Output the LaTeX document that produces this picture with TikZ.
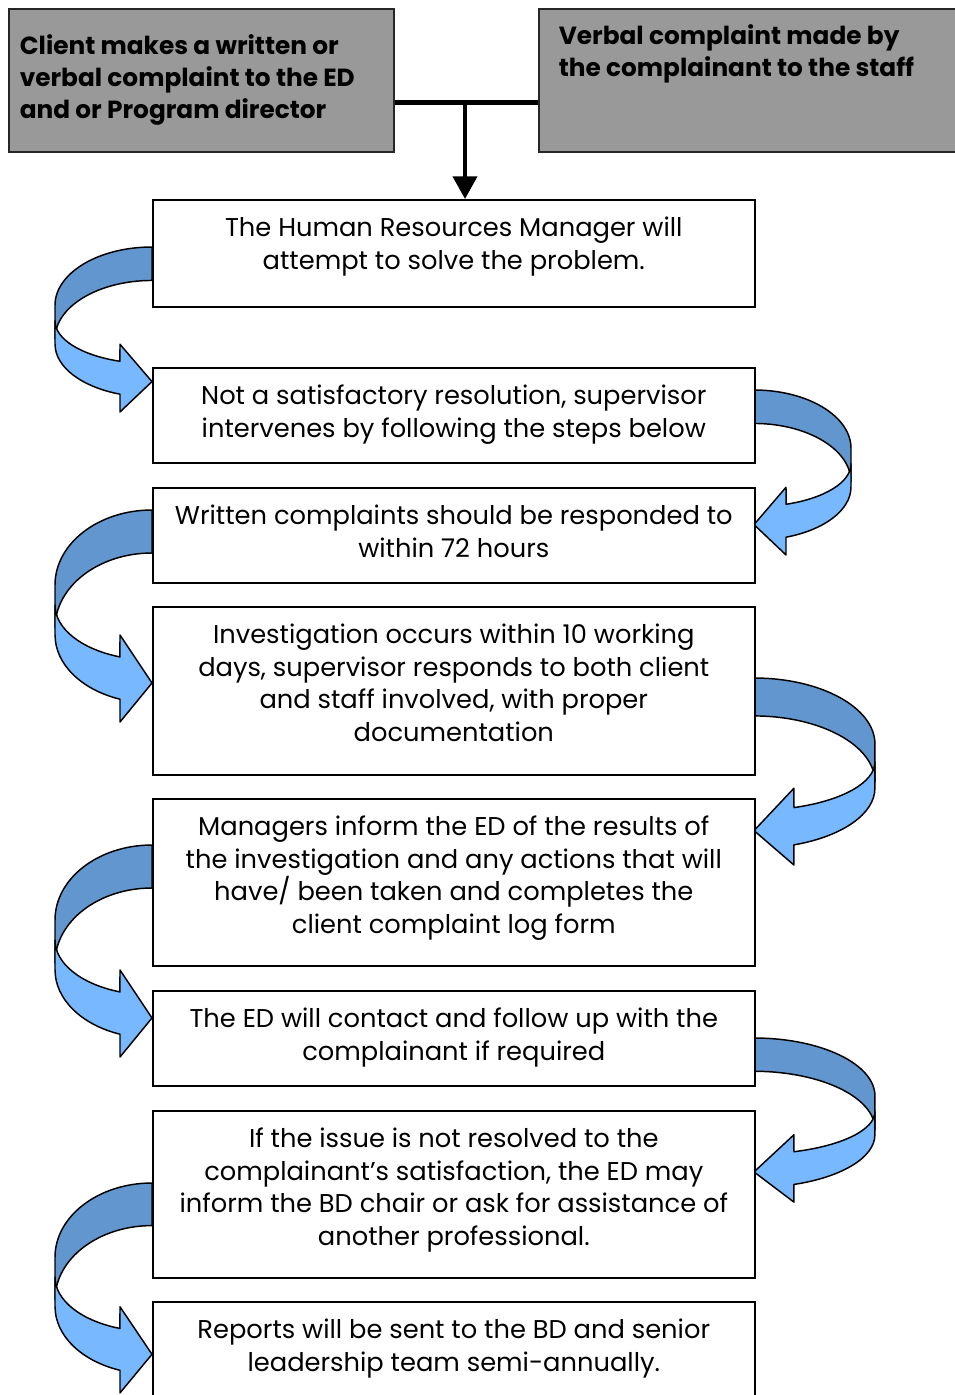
\documentclass[tikz,border=0pt]{standalone}
\usepackage{fontspec}
\setmainfont{Poppins}
\usetikzlibrary{arrows.meta}
\definecolor{bandback}{RGB}{98,150,206}
\definecolor{bandfront}{RGB}{120,184,255}
\definecolor{graybox}{RGB}{153,153,153}
\newcommand{\uarrow}[4]{%
\begin{scope}[shift={(#1,#2)}, xscale=#3, yscale=#4]
\filldraw[arrowline, fill=bandback] (0,0) arc[start angle=270, end angle=180, x radius=97, y radius=75] -- (-97,118) arc[start angle=180, end angle=270, x radius=97, y radius=75] -- cycle;
\filldraw[arrowline, fill=bandfront] (-97,125) -- (-97,95) arc[start angle=180, end angle=109.3, x radius=97, y radius=55] -- (-32,125) -- (0,173) -- (-32,212) -- (-32,189.2) arc[start angle=109.3, end angle=180, x radius=97, y radius=68] -- cycle;
\end{scope}}
\newcommand{\bxt}[2]{\parbox[c][#1][t]{451.5pt}{\centering\fontsize{19.3}{24.4}\selectfont\rule{0pt}{27.5pt}#2}}
\newcommand{\gxt}[5]{\parbox[c][107.25pt][t]{#1}{\raggedright\leftskip=#2\fontsize{18.6}{24}\selectfont\bfseries\rule{0pt}{#3}#4\par}}
\begin{document}
\begin{tikzpicture}[x=0.75pt,y=-0.75pt,
  arrowline/.style={draw=black, line width=1.1pt, line join=round},
  wbox/.style={draw=black, fill=white, line width=1.2pt, inner sep=0pt, anchor=north west},
  gbox/.style={draw=black!85, fill=graybox, line width=1.2pt, inner sep=0pt, anchor=north west}]
\useasboundingbox (0,0) rectangle (955,1395);
\clip (0,0) rectangle (955,1395);
% curved arrows
\uarrow{152}{247}{1}{0.778}
\uarrow{152}{510}{1}{1}
\uarrow{152}{845}{1}{1}
\uarrow{152}{1183}{1}{0.99}
\uarrow{754}{390}{-1}{0.778}
\uarrow{754}{678}{-1.247}{0.882}
\uarrow{754}{1038}{-1.247}{0.774}
% top boxes
\node[gbox] (g1) at (8,8) {\gxt{288.75pt}{8.25pt}{34.5pt}{Client makes a written or\\ verbal complaint to the ED\\ and or Program director}{}};
\node[gbox] (g2) at (538,8) {\gxt{315pt}{15pt}{27pt}{Verbal complaint made by\\ the complainant to the staff}{}};
% step boxes
\node[wbox] (b1) at (152,199) {\bxt{80.25pt}{The Human Resources Manager will\\ attempt to solve the problem.}};
\node[wbox] (b2) at (152,367) {\bxt{71.25pt}{Not a satisfactory resolution, supervisor\\ intervenes by following the steps below}};
\node[wbox] (b3) at (152,487) {\bxt{71.25pt}{Written complaints should be responded to\\ within 72 hours}};
\node[wbox] (b4) at (152,606) {\bxt{126pt}{Investigation occurs within 10 working\\ days, supervisor responds to both client\\ and staff involved, with proper\\ documentation}};
\node[wbox] (b5) at (152,798) {\bxt{125.25pt}{Managers inform the ED of the results of\\ the investigation and any actions that will\\ have/ been taken and completes the\\ client complaint log form}};
\node[wbox] (b6) at (152,990) {\bxt{71.25pt}{The ED will contact and follow up with the\\ complainant if required}};
\node[wbox] (b7) at (152,1110) {\bxt{125.25pt}{If the issue is not resolved to the\\ complainant’s satisfaction, the ED may\\ inform the BD chair or ask for assistance of\\ another professional.}};
\node[wbox] (b8) at (152,1301) {\bxt{75pt}{Reports will be sent to the BD and senior\\ leadership team semi-annually.}};
% connector
\coordinate (j) at (465,102);
\draw[line width=3.75pt] (g1.east |- j) -- (g2.west |- j);
\draw[line width=3pt, -{Triangle[length=17pt,width=18pt]}] (j) -- (j |- b1.north);
\end{tikzpicture}
\end{document}
